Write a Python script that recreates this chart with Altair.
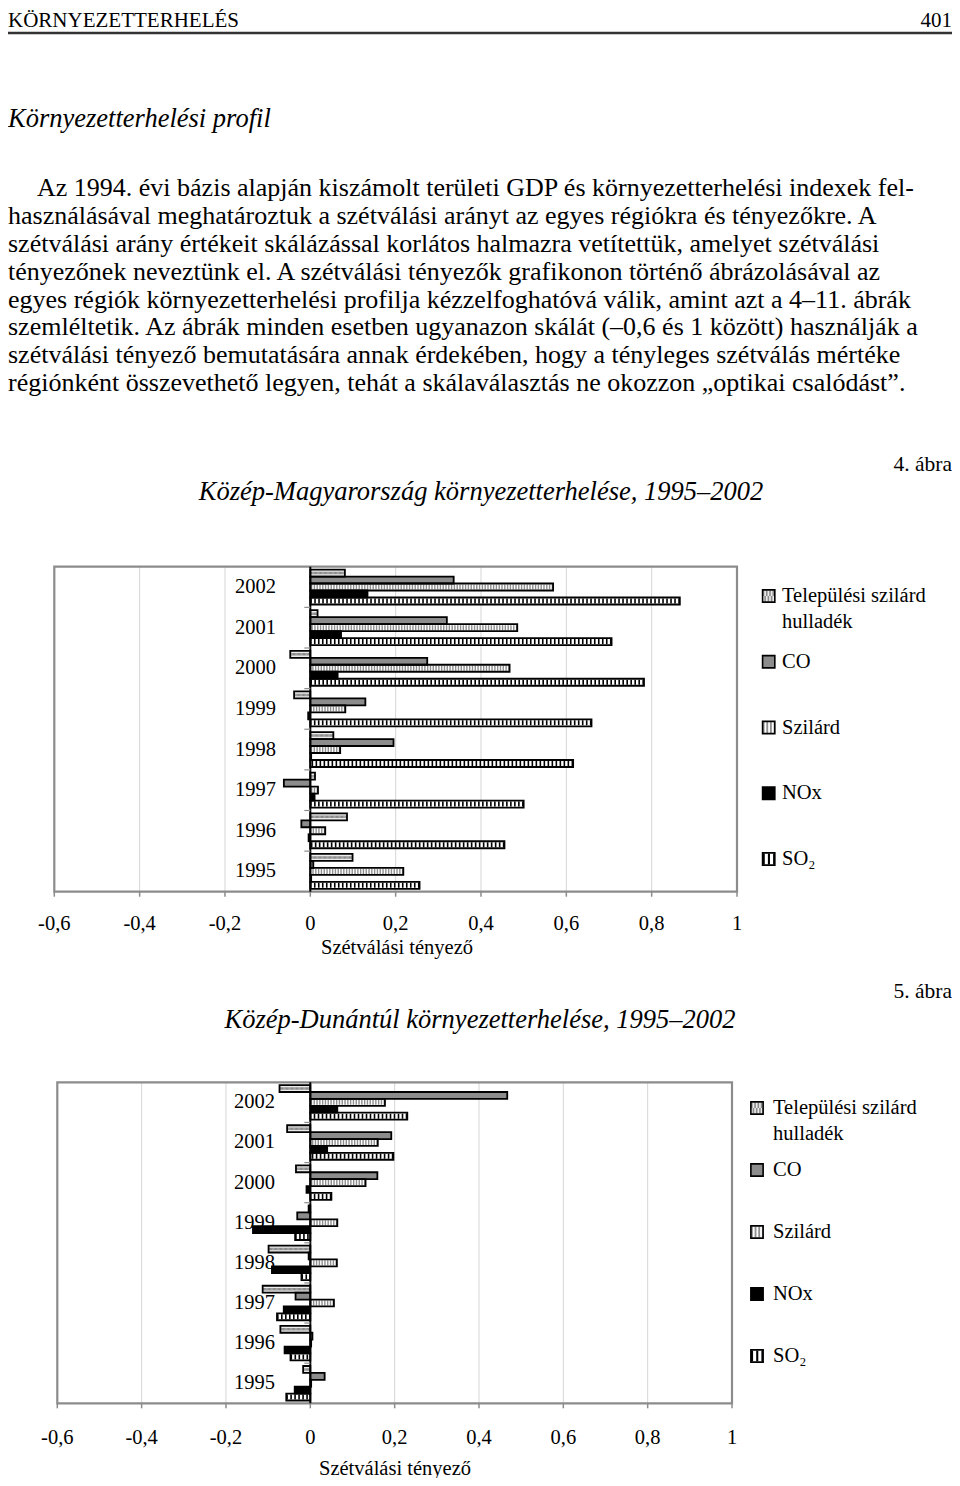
import altair as alt
import pandas as pd

FONT = "Liberation Serif"

# ---------------- data ----------------
years = ["2002", "2001", "2000", "1999", "1998", "1997", "1996", "1995"]
series = ["Települési szilárd hulladék", "CO", "Szilárd", "NOx", "SO₂"]
legend_labels = ["Települési szilárd", "CO", "Szilárd", "NOx", "SO₂"]
tick_values = [-0.6, -0.4, -0.2, 0, 0.2, 0.4, 0.6, 0.8, 1]
tick_labels = ["-0,6", "-0,4", "-0,2", "0", "0,2", "0,4", "0,6", "0,8", "1"]

# Közép-Magyarország (4. ábra)
kmo_tel = [0.081, 0.017, -0.047, -0.038, 0.054, 0.011, 0.086, 0.099]
kmo_co = [0.336, 0.320, 0.274, 0.129, 0.195, -0.062, -0.021, 0.007]
kmo_szilard = [0.569, 0.485, 0.467, 0.082, 0.070, 0.018, 0.035, 0.218]
kmo_nox = [0.134, 0.072, 0.064, -0.005, 0.002, 0.010, -0.004, 0.002]
kmo_so2 = [0.866, 0.706, 0.782, 0.659, 0.616, 0.500, 0.455, 0.256]

# Közép-Dunántúl (5. ábra)
kdt_tel = [-0.073, -0.055, -0.034, -0.004, -0.099, -0.113, -0.071, -0.017]
kdt_co = [0.467, 0.192, 0.159, -0.031, -0.004, -0.035, 0.005, 0.034]
kdt_szilard = [0.177, 0.160, 0.131, 0.064, 0.063, 0.056, 0.002, 0.002]
kdt_nox = [0.064, 0.040, -0.009, -0.136, -0.091, -0.063, -0.061, -0.037]
kdt_so2 = [0.230, 0.197, 0.050, -0.036, -0.021, -0.079, -0.047, -0.057]

header_left = "KÖRNYEZETTERHELÉS"
header_right = "401"
section_title = "Környezetterhelési profil"
body_first = "Az 1994. évi bázis alapján kiszámolt területi GDP és környezetterhelési indexek fel-"
body_rest = [
    "használásával meghatároztuk a szétválási arányt az egyes régiókra és tényezőkre. A",
    "szétválási arány értékeit skálázással korlátos halmazra vetítettük, amelyet szétválási",
    "tényezőnek neveztünk el. A szétválási tényezők grafikonon történő ábrázolásával az",
    "egyes régiók környezetterhelési profilja kézzelfoghatóvá válik, amint azt a 4–11. ábrák",
    "szemléltetik. Az ábrák minden esetben ugyanazon skálát (–0,6 és 1 között) használják a",
    "szétválási tényező bemutatására annak érdekében, hogy a tényleges szétválás mértéke",
    "régiónként összevethető legyen, tehát a skálaválasztás ne okozzon „optikai csalódást”.",
]
fig4_label = "4. ábra"
fig4_title = "Közép-Magyarország környezetterhelése, 1995–2002"
fig5_label = "5. ábra"
fig5_title = "Közép-Dunántúl környezetterhelése, 1995–2002"
x_title = "Szétválási tényező"

# ---------------- styles ----------------
base_fill = ["#ececec", "#8c8c8c", "#ffffff", "#000000", "#ffffff"]
# (series index, colour, width, dash, dash offset, pixel dy)
patterns = [
    (0, "#8a8a8a", 2.5, [1.25, 1.25], 0, -1.25),
    (0, "#8a8a8a", 2.5, [1.25, 1.25], 1.25, 1.25),
    (2, "#8f8f8f", 5, [1.4, 1.4], 0, 0),
    (4, "#000000", 5, [1.6, 2.4], 0, 0),
]

ONE = pd.DataFrame({"k": [0]})
ticks_df = pd.DataFrame({"t": tick_values, "lab": tick_labels})
years_df = pd.DataFrame({"year": years})
legend_df = pd.DataFrame({"series": series, "label": legend_labels})


def long_df(cols):
    rows = []
    for s, vals in zip(series, cols):
        for y, v in zip(years, vals):
            rows.append({"year": y, "series": s, "value": v})
    return pd.DataFrame(rows)


def txt(s, x, y, size, align="left", italic=False, baseline="alphabetic", line_height=None):
    kw = dict(text=s, font=FONT, fontSize=size, align=align, baseline=baseline,
              fontStyle="italic" if italic else "normal", color="black")
    if line_height:
        kw["lineHeight"] = line_height
    return alt.Chart(ONE).mark_text(**kw).encode(x=alt.value(x), y=alt.value(y))


def panel(cols, g):
    df = long_df(cols)
    xs = alt.Scale(domain=[-0.6, 1], range=g["x"], nice=False, zero=False)
    ys = alt.Scale(domain=years, range=g["y"], paddingInner=0.14, paddingOuter=0.07)
    os_ = alt.Scale(domain=series, paddingInner=0, paddingOuter=0)
    fs = alt.Scale(domain=series, range=base_fill)
    top, bot = g["y"]
    X = alt.X("value:Q", scale=xs, axis=None)
    Y = alt.Y("year:O", scale=ys, axis=None)
    YO = alt.YOffset("series:N", scale=os_)
    layers = []
    layers.append(alt.Chart(ticks_df).mark_rule(color="#d6d6d6", strokeWidth=1).encode(
        x=alt.X("t:Q", scale=xs, axis=None), y=alt.value(top), y2=alt.value(bot)))
    layers.append(alt.Chart(ticks_df).mark_rule(color="#8c8c8c", strokeWidth=1.5).encode(
        x=alt.X("t:Q", scale=xs, axis=None), y=alt.value(bot), y2=alt.value(bot + 5)))
    layers.append(alt.Chart(ONE).mark_rect(fill="white", fillOpacity=0, stroke="#8c8c8c", strokeWidth=2.2).encode(
        x=alt.X(datum=-0.6, scale=xs, axis=None), x2=alt.datum(1),
        y=alt.value(top), y2=alt.value(bot)))
    # bar fills
    layers.append(alt.Chart(df).mark_bar(strokeWidth=0).encode(
        x=X, y=Y, yOffset=YO, fill=alt.Fill("series:N", scale=fs, legend=None)))
    # pattern overlays
    for si, col, w, dash, doff, dy in patterns:
        layers.append(alt.Chart(df).transform_filter(alt.datum.series == series[si]).mark_rule(
            color=col, strokeWidth=w, strokeDash=dash, strokeDashOffset=doff, yOffset=dy).encode(
            x=X, x2=alt.datum(0), y=Y, yOffset=YO))
    # outlines
    layers.append(alt.Chart(df).mark_bar(fill="white", fillOpacity=0, stroke="black", strokeWidth=1.8).encode(
        x=X, y=Y, yOffset=YO))
    # category axis at zero
    layers.append(alt.Chart(ONE).mark_rule(color="black", strokeWidth=2).encode(
        x=alt.X(datum=0, scale=xs, axis=None), y=alt.value(top), y2=alt.value(bot)))
    layers.append(alt.Chart(pd.DataFrame({"year": years[1:]})).mark_rule(
        color="#8c8c8c", strokeWidth=1.2, xOffset=-6, yOffset=-2.8).encode(
        x=alt.X(datum=0, scale=xs, axis=None), x2=alt.datum(0),
        y=alt.Y("year:O", scale=ys, axis=None, bandPosition=0)))
    # tick labels, title, year labels
    layers.append(alt.Chart(ticks_df).mark_text(font=FONT, fontSize=20.5, baseline="alphabetic").encode(
        x=alt.X("t:Q", scale=xs, axis=None), y=alt.value(g["xlab_y"]), text="lab:N"))
    layers.append(txt(x_title, g["title_x"], g["title_y"], 20.5, align="center"))
    layers.append(alt.Chart(years_df).mark_text(font=FONT, fontSize=20.5, align="right", baseline="middle").encode(
        x=alt.value(g["year_x"]), y=Y, text="year:N"))
    # legend
    ls = alt.Scale(type="point", domain=series, range=g["leg"], padding=0)
    LY = alt.Y("series:N", scale=ls, axis=None)
    cx = g["leg_x"]
    layers.append(alt.Chart(legend_df).mark_square(size=150, opacity=1, strokeWidth=0).encode(
        x=alt.value(cx), y=LY, fill=alt.Fill("series:N", scale=fs, legend=None)))
    for si, col, w, dash, doff, dy in patterns:
        layers.append(alt.Chart(legend_df).transform_filter(alt.datum.series == series[si]).mark_rule(
            color=col, strokeWidth=w * 2.2, strokeDash=[d * 1.3 for d in dash], strokeDashOffset=doff * 1.3,
            yOffset=dy * 2.2).encode(x=alt.value(cx - 6), x2=alt.value(cx + 6), y=LY))
    layers.append(alt.Chart(legend_df).mark_square(size=150, fill="white", fillOpacity=0, stroke="black",
                                                   strokeWidth=1.6).encode(x=alt.value(cx), y=LY))
    layers.append(alt.Chart(legend_df).mark_text(font=FONT, fontSize=20.5, align="left", baseline="middle").encode(
        x=alt.value(g["leg_tx"]), y=LY, text="label:N"))
    layers.append(alt.Chart(legend_df.iloc[[0]]).mark_text(font=FONT, fontSize=20.5, align="left",
                                                         baseline="middle", dy=26).encode(
        x=alt.value(g["leg_tx"]), y=LY, text=alt.value("hulladék")))
    return layers


g1 = dict(x=[46.3, 729.0], y=[558.7, 883.7], xlab_y=922, title_x=389, title_y=946,
          year_x=268, leg=[588, 851], leg_x=760.7, leg_tx=774)
g2 = dict(x=[49.3, 724.0], y=[1074.3, 1395.3], xlab_y=1435.7, title_x=387, title_y=1467,
          year_x=267, leg=[1100, 1348], leg_x=749, leg_tx=765)

page = [
    txt(header_left, 0, 18.5, 21),
    txt(header_right, 944, 18.5, 21, align="right"),
    alt.Chart(ONE).mark_rule(color="#333333", strokeWidth=2.5).encode(
        x=alt.value(0), x2=alt.value(944), y=alt.value(25)),
    txt(section_title, 0, 119.3, 26.5, italic=True),
    txt(body_first, 29, 188, 26),
    txt(body_rest, 0, 215.9, 26, line_height=27.9),
    txt(fig4_label, 944, 462.7, 21.5, align="right"),
    txt(fig4_title, 473, 492, 26.5, align="center", italic=True),
    txt(fig5_label, 944, 990, 21.5, align="right"),
    txt(fig5_title, 472, 1019.5, 26.5, align="center", italic=True),
]

layers = page + panel([kmo_tel, kmo_co, kmo_szilard, kmo_nox, kmo_so2], g1) + \
    panel([kdt_tel, kdt_co, kdt_szilard, kdt_nox, kdt_so2], g2)

chart = alt.layer(*layers).resolve_scale(
    x="independent", y="independent", yOffset="independent"
).properties(
    width=944, height=1470, padding=0, autosize=alt.AutoSizeParams(type="none"),
    background="white"
).configure_view(stroke=None)

chart.save("out.html", embed_options={"renderer": "svg", "actions": False})
